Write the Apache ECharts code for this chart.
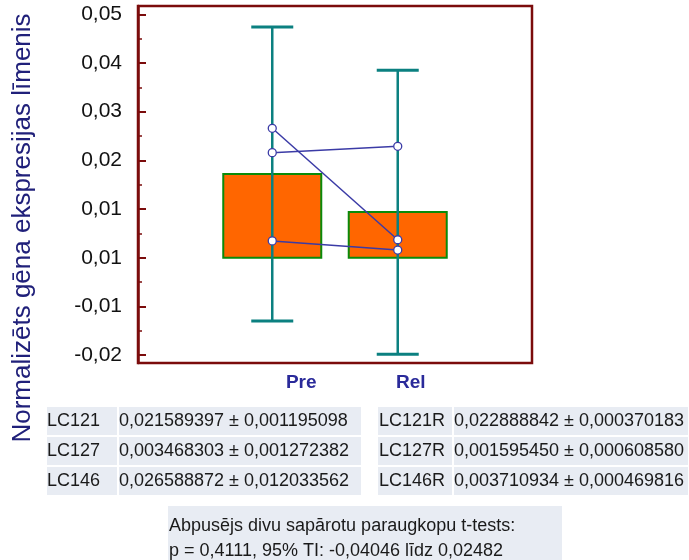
<!DOCTYPE html>
<html>
<head>
<meta charset="utf-8">
<script src="https://cdn.jsdelivr.net/npm/echarts@6/dist/echarts.min.js"></script>
<style>
html,body{margin:0;padding:0;background:#fff;}
#chart{width:689px;height:560px;}
</style>
</head>
<body>
<div id="chart"></div>
<script>
// ---- data ----
var groups = ['Pre', 'Rel'];
var groupX = [1, 2];
var barMeans = [0.01722, 0.00940];
var ciLow = [-0.0130, -0.0198];
var ciHigh = [0.0474, 0.0385];
var preNames = ['LC121', 'LC127', 'LC146'];
var preValues = [0.021589397, 0.003468303, 0.026588872];
var preErr = ['0,001195098', '0,001272382', '0,012033562'];
var preText = ['0,021589397', '0,003468303', '0,026588872'];
var relNames = ['LC121R', 'LC127R', 'LC146R'];
var relValues = [0.022888842, 0.001595450, 0.003710934];
var relErr = ['0,000370183', '0,000608580', '0,000469816'];
var relText = ['0,022888842', '0,001595450', '0,003710934'];
var tickValues = [0.05, 0.04, 0.03, 0.02, 0.01, 0, -0.01, -0.02];
var tickLabels = ['0,05', '0,04', '0,03', '0,02', '0,01', '0,01', '-0,01', '-0,02'];
var minorTickValues = [0.045, 0.035, 0.025, 0.015, 0.005, -0.005, -0.015];
var yAxisTitle = 'Normalizēts gēna ekspresijas līmenis';
var statsLines = ['Abpusējs divu sapārotu paraugkopu t-tests:', 'p = 0,4111, 95% TI: -0,04046 līdz 0,02482'];

// ---- chart ----
var chart = echarts.init(document.getElementById('chart'));
var AXC = '#7b0c0c';
var FONT = 'Liberation Sans, Arial, sans-serif';

var series = [];
series.push({
  type: 'custom', z: 2,
  data: groupX.map(function (x, i) { return [x, barMeans[i]]; }),
  renderItem: function (params, api) {
    var x = api.value(0), v = api.value(1);
    var p0 = api.coord([x, 0]), p1 = api.coord([x, v]);
    var hw = 49;
    return {
      type: 'rect',
      shape: { x: p0[0] - hw, y: Math.min(p0[1], p1[1]), width: hw * 2, height: Math.abs(p0[1] - p1[1]) },
      style: { fill: '#ff6600', stroke: '#0a8a0a', lineWidth: 2 }
    };
  }
});
series.push({
  type: 'custom', z: 3,
  data: groupX.map(function (x, i) { return [x, ciLow[i], ciHigh[i]]; }),
  renderItem: function (params, api) {
    var x = api.value(0);
    var lo = api.coord([x, api.value(1)]), hi = api.coord([x, api.value(2)]);
    var cw = 21;
    return {
      type: 'group',
      children: [
        { type: 'line', shape: { x1: lo[0], y1: lo[1], x2: hi[0], y2: hi[1] }, style: { stroke: '#0b8080', lineWidth: 2.5 } },
        { type: 'line', shape: { x1: lo[0] - cw, y1: lo[1], x2: lo[0] + cw, y2: lo[1] }, style: { stroke: '#0b8080', lineWidth: 3 } },
        { type: 'line', shape: { x1: hi[0] - cw, y1: hi[1], x2: hi[0] + cw, y2: hi[1] }, style: { stroke: '#0b8080', lineWidth: 3 } }
      ]
    };
  }
});
for (var i = 0; i < preValues.length; i++) {
  series.push({
    type: 'line', z: 4,
    data: [[groupX[0], preValues[i]], [groupX[1], relValues[i]]],
    symbol: 'circle', symbolSize: 8,
    lineStyle: { color: '#3b3ba6', width: 1.5 },
    itemStyle: { color: '#ffffff', borderColor: '#3b3ba6', borderWidth: 1.3 },
    silent: true, animation: false
  });
}

// table graphics
var graphics = [];
var CELL = '#e8ecf3';
var rowTops = [407, 437, 467];
var rowH = 28;
function addCell(x, y, w, h) {
  graphics.push({ type: 'rect', shape: { x: x, y: y, width: w, height: h }, style: { fill: CELL }, silent: true });
}
function addText(x, y, text, size) {
  graphics.push({ type: 'text', x: x, y: y, style: { text: text, fill: '#1a1a1a', font: (size || 18) + 'px ' + FONT, verticalAlign: 'middle', align: 'left' }, silent: true });
}
for (var r = 0; r < preNames.length; r++) {
  var y = rowTops[r];
  addCell(47, y, 70, rowH);
  addCell(119, y, 242, rowH);
  addText(47, y + rowH / 2 + 0.5, preNames[r]);
  addText(119, y + rowH / 2 + 0.5, preText[r] + ' ± ' + preErr[r]);
  addCell(378, y, 74, rowH);
  addCell(454, y, 234, rowH);
  addText(379, y + rowH / 2 + 0.5, relNames[r]);
  addText(454, y + rowH / 2 + 0.5, relText[r] + ' ± ' + relErr[r]);
}
graphics.push({ type: 'rect', shape: { x: 168, y: 506, width: 394, height: 54 }, style: { fill: CELL }, silent: true });
addText(169, 526, statsLines[0], 18);
addText(169, 551, statsLines[1], 18);
graphics.push({
  type: 'text', x: 23, y: 228, rotation: Math.PI / 2,
  style: { text: yAxisTitle, fill: '#20207a', font: '26px ' + FONT, align: 'center', verticalAlign: 'middle' },
  silent: true
});

chart.setOption({
  animation: false,
  backgroundColor: '#ffffff',
  grid: { left: 138, top: 6, width: 394, height: 357, show: true, borderColor: AXC, borderWidth: 2.5, backgroundColor: 'transparent' },
  xAxis: {
    type: 'value', min: -0.07, max: 3.07,
    axisLine: { show: false, onZero: false }, axisTick: { show: false }, splitLine: { show: false },
    axisLabel: {
      customValues: groupX,
      margin: 10,
      formatter: function (v) {
        var idx = groupX.indexOf(v);
        return idx === 0 ? '{a|' + groups[0] + '}' : '{b|' + groups[1] + '}';
      },
      rich: {
        a: { fontFamily: FONT, fontSize: 19, fontWeight: 'bold', color: '#2a2a9a', padding: [0, 0, 0, 58] },
        b: { fontFamily: FONT, fontSize: 19, fontWeight: 'bold', color: '#2a2a9a', padding: [0, 0, 0, 26] }
      }
    }
  },
  yAxis: [{
    type: 'value', min: -0.0216, max: 0.0517, offset: 0,
    axisLine: { show: true, onZero: false, lineStyle: { color: AXC, width: 2.5 } },
    axisTick: { show: true, inside: true, length: 8, lineStyle: { color: AXC, width: 2 }, customValues: tickValues },
    splitLine: { show: false },
    axisLabel: {
      customValues: tickValues,
      margin: 16,
      color: '#111', fontFamily: FONT, fontSize: 21,
      formatter: function (v) {
        for (var k = 0; k < tickValues.length; k++) {
          if (Math.abs(tickValues[k] - v) < 1e-9) return tickLabels[k];
        }
        return '';
      }
    }
  }, {
    type: 'value', min: -0.0216, max: 0.0517, position: 'left', offset: 0,
    axisLine: { show: false, onZero: false },
    axisTick: { show: true, inside: true, length: 4, lineStyle: { color: AXC, width: 1.5 }, customValues: minorTickValues },
    axisLabel: { show: false },
    splitLine: { show: false }
  }],
  series: series,
  graphic: graphics
});
</script>
</body>
</html>
